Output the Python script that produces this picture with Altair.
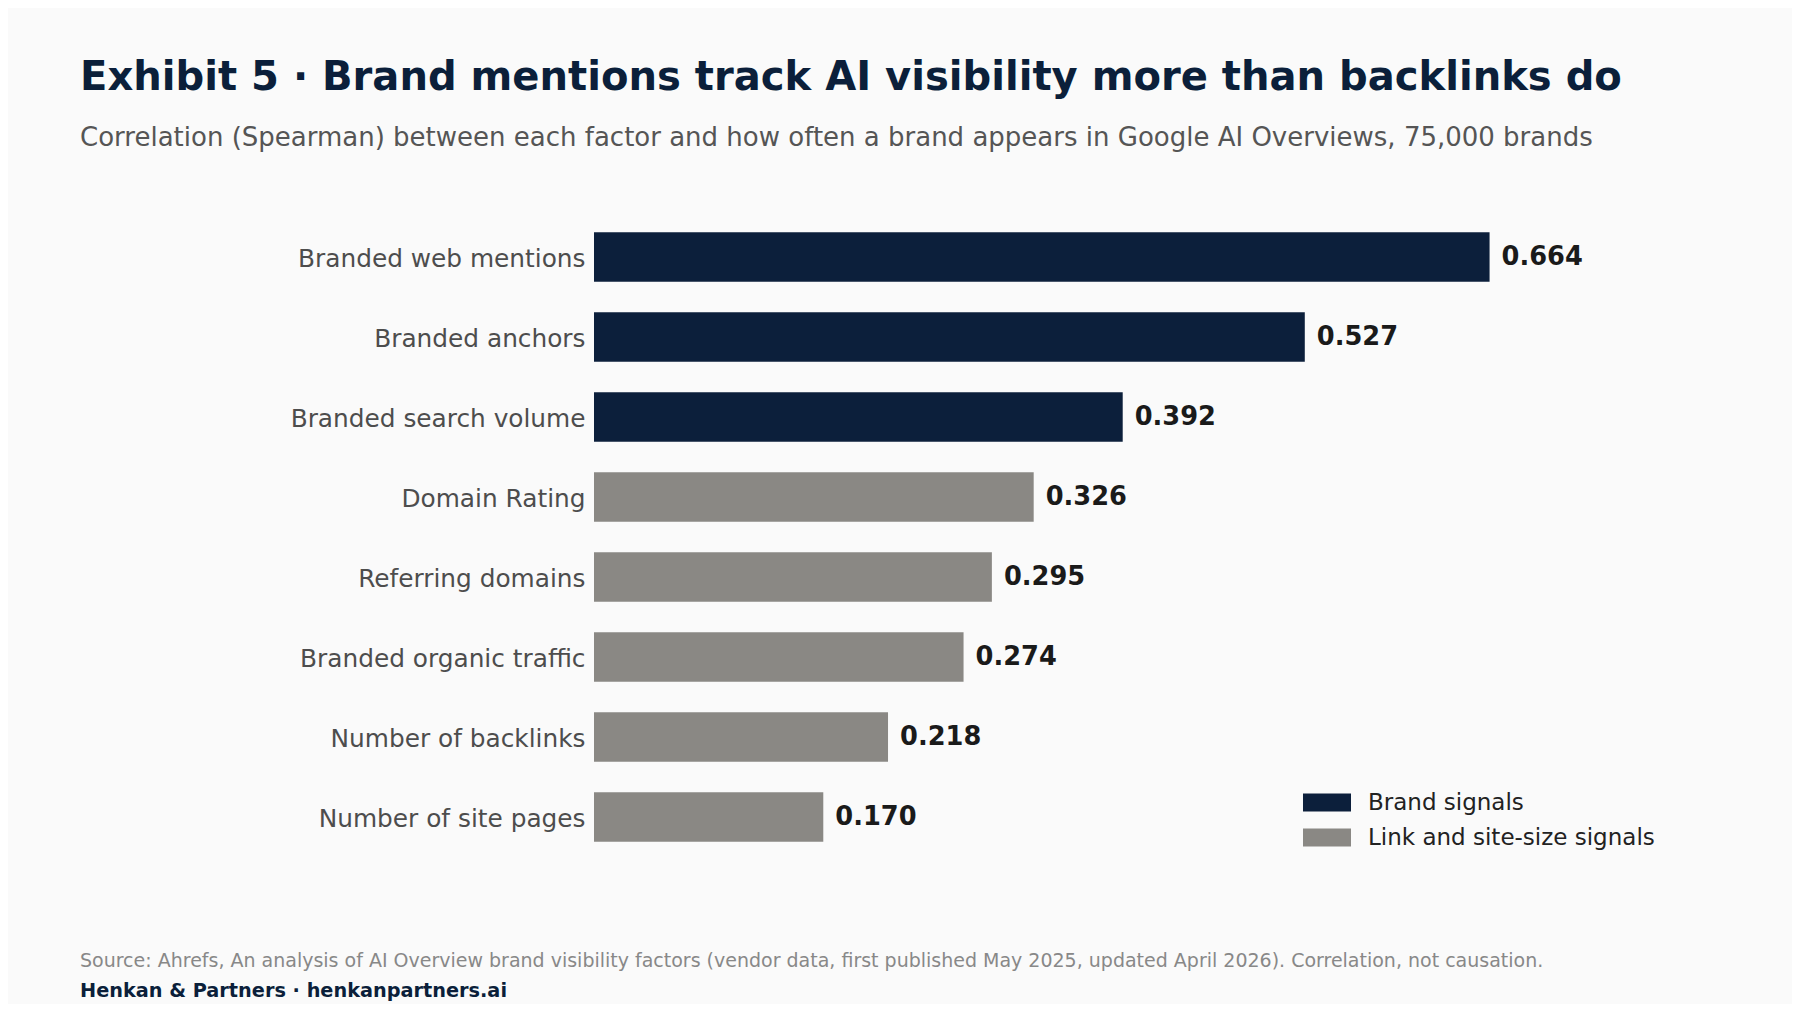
import altair as alt
import pandas as pd

factors = [
    "Branded web mentions",
    "Branded anchors",
    "Branded search volume",
    "Domain Rating",
    "Referring domains",
    "Branded organic traffic",
    "Number of backlinks",
    "Number of site pages",
]
values = [0.664, 0.527, 0.392, 0.326, 0.295, 0.274, 0.218, 0.170]
groups = [
    "Brand signals",
    "Brand signals",
    "Brand signals",
    "Link and site-size signals",
    "Link and site-size signals",
    "Link and site-size signals",
    "Link and site-size signals",
    "Link and site-size signals",
]
group_names = ["Brand signals", "Link and site-size signals"]
group_colors = ["#0c1f3b", "#8a8884"]

title_text = "Exhibit 5 · Brand mentions track AI visibility more than backlinks do"
subtitle_text = ("Correlation (Spearman) between each factor and how often a brand appears "
                 "in Google AI Overviews, 75,000 brands")
source_text = ("Source: Ahrefs, An analysis of AI Overview brand visibility factors (vendor data, "
               "first published May 2025, updated April 2026). Correlation, not causation.")
footer_text = "Henkan & Partners · henkanpartners.ai"

df = pd.DataFrame({"factor": factors, "value": values, "group": groups})

FONT = "DejaVu Sans"
W, H = 1079, 640
XMAX = 0.8
TOP = 209

y_enc = alt.Y(
    "factor:N",
    sort=factors,
    scale=alt.Scale(paddingInner=0.38, paddingOuter=0.19),
    axis=alt.Axis(
        title=None, ticks=False, domain=False, labelFont=FONT, labelFontSize=24.8,
        labelColor="#4d4d4d", labelPadding=9, labelLimit=500, labelOffset=2.5,
    ),
)
x_enc = alt.X("value:Q", scale=alt.Scale(domain=[0, XMAX], nice=False), axis=None)

bars = alt.Chart(df).mark_bar().encode(
    x=x_enc,
    y=y_enc,
    color=alt.Color(
        "group:N",
        scale=alt.Scale(domain=group_names, range=group_colors),
        legend=alt.Legend(
            title=None, orient="none", legendX=721.5, legendY=574,
            symbolType="M-2.667,-1H2.667V1H-2.667Z", symbolSize=324,
            symbolStrokeWidth=0, symbolOpacity=1,
            labelFont=FONT, labelFontSize=23.0, labelColor="#222222", labelLimit=600,
            labelOffset=29.5, rowPadding=11, padding=0,
        ),
    ),
)

labels = alt.Chart(df).mark_text(
    align="left", baseline="middle", dx=12, dy=-0.5, font=FONT, fontSize=25.7,
    fontWeight="bold", color="#1a1a1a",
).encode(x=x_enc, y=y_enc, text=alt.Text("value:Q", format=".3f"))


def annot(txt, x, y, size, color, weight="normal"):
    return alt.Chart(pd.DataFrame({"t": [txt]})).mark_text(
        align="left", baseline="alphabetic", font=FONT, fontSize=size,
        fontWeight=weight, color=color,
    ).encode(text="t:N", x=alt.value(x), y=alt.value(y))


title = annot(title_text, -514, -127, 40.1, "#0b1f3a", "bold")
subtitle = annot(subtitle_text, -514, -71, 26, "#555555")
source = annot(source_text, -514, 750, 19.0, "#888888")
footer = annot(footer_text, -514, 780, 19.3, "#0b1f3a", "bold")

chart = alt.layer(bars, labels, title, subtitle, source, footer).properties(
    width=W, height=H,
    autosize=alt.AutoSizeParams(type="none"),
    padding={"left": 586, "top": TOP, "right": 1784 - 586 - W, "bottom": 996 - TOP - H},
    background="#fafafa",
).configure_view(stroke=None)

chart.save("out.html", embed_options={"renderer": "svg", "actions": False})
